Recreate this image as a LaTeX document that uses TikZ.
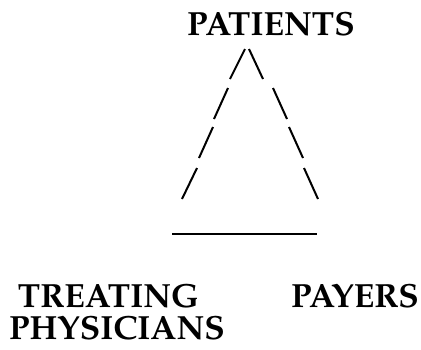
\documentclass[tikz,border=0pt]{standalone}
\usepackage[T1]{fontenc}
\usepackage{mathpazo}
\begin{document}
\begin{tikzpicture}[x=1pt, y=-1pt,
  label/.style={font=\fontsize{33.5}{40}\selectfont\bfseries, inner sep=0pt, anchor=base},
  slash/.style={line width=2pt},
  base line/.style={line width=2pt}]
  \useasboundingbox (0,0) rectangle (421,349);

  % labels
  \node[label] (patients) at (271,35) {PATIENTS};
  \node[label] (treating) at (108.5,307) {TREATING};
  \node[label] (physicians) at (117,339) {PHYSICIANS};
  \node[label] (payers) at (355,307) {PAYERS};

  % left side of the triangle
  \draw[slash] (245,49) -- (230,79);
  \draw[slash] (228,88) -- (214,119);
  \draw[slash] (213,127) -- (199,158);
  \draw[slash] (197,168) -- (182,199);

  % right side of the triangle
  \draw[slash] (249,49) -- (263,79);
  \draw[slash] (273,88) -- (287,119);
  \draw[slash] (289,127) -- (303,158);
  \draw[slash] (304,168) -- (318,199);

  % base of the triangle
  \draw[base line] (172,233.5) -- (317,233.5);
\end{tikzpicture}
\end{document}
